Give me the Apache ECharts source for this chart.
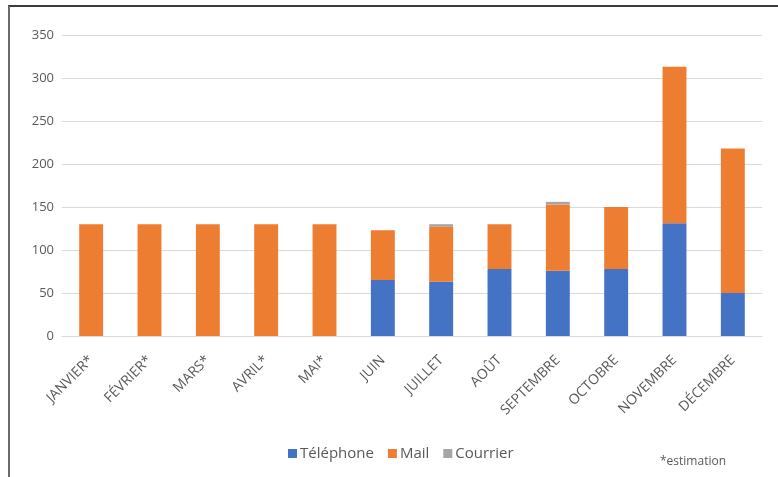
<!DOCTYPE html>
<html>
<head>
<meta charset="utf-8">
<script src="https://cdn.jsdelivr.net/npm/echarts@6/dist/echarts.min.js"></script>
<style>
  html, body { margin: 0; padding: 0; background: #fff; }
  #chart { width: 778px; height: 477px; }
</style>
</head>
<body>
<div id="chart"></div>
<script>
// Monthly contacts by channel
const months = ['JANVIER*', 'FÉVRIER*', 'MARS*', 'AVRIL*', 'MAI*', 'JUIN', 'JUILLET', 'AOÛT', 'SEPTEMBRE', 'OCTOBRE', 'NOVEMBRE', 'DÉCEMBRE'];
const telephone = [null, null, null, null, null, 65, 63, 78, 76, 78, 131, 50];
const mail = [130, 130, 130, 130, 130, 58, 64, 52, 77, 72, 182, 168];
const courrier = [null, null, null, null, null, null, 3, null, 3, null, null, null];
const yTicks = { min: 0, max: 350, interval: 50 };

const textColor = '#595959';
const chart = echarts.init(document.getElementById('chart'));

function barSeries(name, data, color) {
  return {
    name: name,
    type: 'bar',
    stack: 'total',
    data: data,
    barWidth: '41%',
    itemStyle: { color: color },
    emphasis: { disabled: true }
  };
}

chart.setOption({
  animation: false,
  grid: { left: 62, right: 16, top: 35, bottom: 141 },
  xAxis: {
    type: 'category',
    data: months,
    axisLine: { show: true, lineStyle: { color: '#d9d9d9' } },
    axisTick: { show: false },
    axisLabel: {
      rotate: 45,
      interval: 0,
      color: textColor,
      fontSize: 14,
      fontFamily: 'Open Sans',
      margin: 22
    }
  },
  yAxis: {
    type: 'value',
    min: yTicks.min,
    max: yTicks.max,
    interval: yTicks.interval,
    axisLine: { show: false },
    axisTick: { show: false },
    splitLine: { lineStyle: { color: '#d9d9d9' } },
    axisLabel: { color: textColor, fontSize: 13, fontFamily: 'Open Sans', margin: 8 }
  },
  legend: {
    top: 441,
    left: 283,
    itemWidth: 9,
    itemHeight: 9,
    itemGap: 14,
    icon: 'rect',
    textStyle: { color: textColor, fontSize: 15, fontFamily: 'Open Sans', padding: [0, 0, 0, -2] },
    data: ['Téléphone', 'Mail', 'Courrier']
  },
  graphic: [
    { type: 'line', shape: { x1: 8, y1: 6, x2: 778, y2: 6 }, style: { stroke: '#3a3a3a', lineWidth: 2 } },
    { type: 'line', shape: { x1: 9, y1: 6, x2: 9, y2: 477 }, style: { stroke: '#6a6a6a', lineWidth: 2 } },
    {
      type: 'text',
      left: 660,
      top: 456,
      style: { text: '*estimation', fill: textColor, font: '12px "Open Sans"' }
    }
  ],
  series: [
    barSeries('Téléphone', telephone, '#4472C4'),
    barSeries('Mail', mail, '#ED7D31'),
    barSeries('Courrier', courrier, '#A5A5A5')
  ]
});
</script>
</body>
</html>
